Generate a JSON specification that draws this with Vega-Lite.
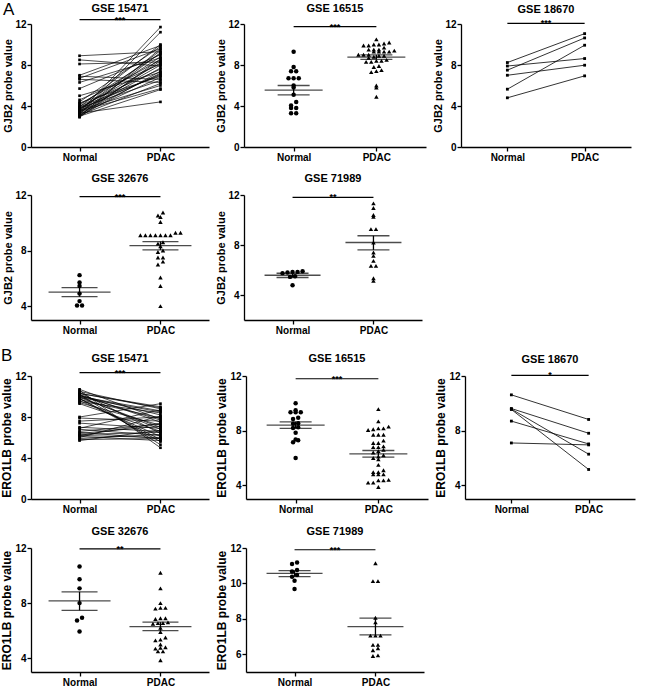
{
"$schema":"https://vega.github.io/schema/vega-lite/v6.json",
"padding":{"left":0,"top":0,"right":2,"bottom":2},
"config":{
 "font":"Liberation Sans",
 "view":{"stroke":null},
 "axis":{"grid":false,"domainColor":"#000","domainWidth":1.3,"tickColor":"#000","tickWidth":1.3,"tickSize":4,"labelFontSize":10,"labelFontWeight":"bold","labelColor":"#000","labelPadding":1,"titleFontSize":11,"titleFontWeight":"bold","titleColor":"#000","titlePadding":1,"labelFlush":false,"labelOverlap":false},
 "title":{"fontSize":11,"fontWeight":"bold","color":"#000","anchor":"middle","frame":"group","offset":6},
 "concat":{"spacing":8}
},
"datasets":{
 "one":[{"k":1}],
 "pr":[
  {"p":"A1","id":1,"Normal":8.9,"PDAC":9.3},{"p":"A1","id":2,"Normal":8.5,"PDAC":7.9},{"p":"A1","id":3,"Normal":8.1,"PDAC":8.3},{"p":"A1","id":4,"Normal":7.0,"PDAC":9.9},{"p":"A1","id":5,"Normal":6.9,"PDAC":6.6},{"p":"A1","id":6,"Normal":6.7,"PDAC":9.6},{"p":"A1","id":7,"Normal":6.6,"PDAC":6.3},{"p":"A1","id":8,"Normal":6.3,"PDAC":8.7},{"p":"A1","id":9,"Normal":5.7,"PDAC":9.0},{"p":"A1","id":10,"Normal":5.0,"PDAC":7.3},{"p":"A1","id":11,"Normal":4.6,"PDAC":8.1},{"p":"A1","id":12,"Normal":4.4,"PDAC":9.8},{"p":"A1","id":13,"Normal":4.3,"PDAC":6.9},{"p":"A1","id":14,"Normal":4.2,"PDAC":8.5},{"p":"A1","id":15,"Normal":4.0,"PDAC":7.6},{"p":"A1","id":16,"Normal":3.9,"PDAC":10.0},{"p":"A1","id":17,"Normal":3.8,"PDAC":6.5},{"p":"A1","id":18,"Normal":3.7,"PDAC":8.8},{"p":"A1","id":19,"Normal":3.7,"PDAC":7.1},{"p":"A1","id":20,"Normal":3.6,"PDAC":9.4},{"p":"A1","id":21,"Normal":3.5,"PDAC":5.7},{"p":"A1","id":22,"Normal":3.5,"PDAC":8.0},{"p":"A1","id":23,"Normal":3.4,"PDAC":11.7},{"p":"A1","id":24,"Normal":3.4,"PDAC":7.7},{"p":"A1","id":25,"Normal":3.3,"PDAC":4.4},{"p":"A1","id":26,"Normal":3.3,"PDAC":9.2},{"p":"A1","id":27,"Normal":3.2,"PDAC":6.8},{"p":"A1","id":28,"Normal":3.2,"PDAC":11.2},{"p":"A1","id":29,"Normal":3.1,"PDAC":8.4},{"p":"A1","id":30,"Normal":3.1,"PDAC":6.2},{"p":"A1","id":31,"Normal":3.0,"PDAC":9.6},{"p":"A1","id":32,"Normal":3.0,"PDAC":7.4},{"p":"A1","id":33,"Normal":3.0,"PDAC":5.6},{"p":"A1","id":34,"Normal":2.9,"PDAC":8.6},{"p":"A1","id":35,"Normal":3.9,"PDAC":7.0},{"p":"A1","id":36,"Normal":4.1,"PDAC":9.1},{"p":"A1","id":37,"Normal":3.6,"PDAC":6.0},{"p":"A1","id":38,"Normal":3.8,"PDAC":8.2},{"p":"A1","id":39,"Normal":3.3,"PDAC":7.2},
  {"p":"A3","id":1,"Normal":8.24,"PDAC":11.06},{"p":"A3","id":2,"Normal":7.5,"PDAC":10.64},{"p":"A3","id":3,"Normal":5.64,"PDAC":9.93},{"p":"A3","id":4,"Normal":7.9,"PDAC":8.63},{"p":"A3","id":5,"Normal":7.0,"PDAC":7.98},{"p":"A3","id":6,"Normal":4.8,"PDAC":6.94},
  {"p":"B1","id":1,"Normal":10.7,"PDAC":7.8},{"p":"B1","id":2,"Normal":10.6,"PDAC":5.0},{"p":"B1","id":3,"Normal":10.5,"PDAC":8.8},{"p":"B1","id":4,"Normal":10.4,"PDAC":6.4},{"p":"B1","id":5,"Normal":10.3,"PDAC":9.0},{"p":"B1","id":6,"Normal":10.2,"PDAC":7.5},{"p":"B1","id":7,"Normal":10.2,"PDAC":5.3},{"p":"B1","id":8,"Normal":10.1,"PDAC":8.2},{"p":"B1","id":9,"Normal":10.0,"PDAC":6.8},{"p":"B1","id":10,"Normal":10.0,"PDAC":8.6},{"p":"B1","id":11,"Normal":9.9,"PDAC":7.0},{"p":"B1","id":12,"Normal":9.8,"PDAC":5.6},{"p":"B1","id":13,"Normal":9.7,"PDAC":7.9},{"p":"B1","id":14,"Normal":9.6,"PDAC":6.1},{"p":"B1","id":15,"Normal":9.5,"PDAC":8.4},{"p":"B1","id":16,"Normal":9.4,"PDAC":7.2},{"p":"B1","id":17,"Normal":9.3,"PDAC":6.6},{"p":"B1","id":18,"Normal":9.8,"PDAC":5.8},{"p":"B1","id":19,"Normal":10.3,"PDAC":8.9},{"p":"B1","id":20,"Normal":10.1,"PDAC":7.7},{"p":"B1","id":21,"Normal":8.0,"PDAC":9.3},{"p":"B1","id":22,"Normal":7.9,"PDAC":7.6},{"p":"B1","id":23,"Normal":7.6,"PDAC":8.0},{"p":"B1","id":24,"Normal":7.4,"PDAC":6.9},{"p":"B1","id":25,"Normal":6.9,"PDAC":8.7},{"p":"B1","id":26,"Normal":6.8,"PDAC":6.2},{"p":"B1","id":27,"Normal":6.6,"PDAC":7.3},{"p":"B1","id":28,"Normal":6.5,"PDAC":5.9},{"p":"B1","id":29,"Normal":6.3,"PDAC":6.5},{"p":"B1","id":30,"Normal":6.2,"PDAC":7.4},{"p":"B1","id":31,"Normal":6.2,"PDAC":6.0},{"p":"B1","id":32,"Normal":6.1,"PDAC":5.7},{"p":"B1","id":33,"Normal":6.0,"PDAC":8.1},{"p":"B1","id":34,"Normal":5.9,"PDAC":6.3},{"p":"B1","id":35,"Normal":5.8,"PDAC":5.9},{"p":"B1","id":36,"Normal":5.7,"PDAC":6.7},{"p":"B1","id":37,"Normal":6.4,"PDAC":7.1},{"p":"B1","id":38,"Normal":7.0,"PDAC":6.6},{"p":"B1","id":39,"Normal":9.9,"PDAC":8.5},
  {"p":"B3","id":1,"Normal":10.62,"PDAC":8.82},{"p":"B3","id":2,"Normal":9.62,"PDAC":7.81},{"p":"B3","id":3,"Normal":9.58,"PDAC":6.28},{"p":"B3","id":4,"Normal":9.55,"PDAC":5.16},{"p":"B3","id":5,"Normal":8.7,"PDAC":7.03},{"p":"B3","id":6,"Normal":7.1,"PDAC":6.96}
 ],
 "sc":[
  {"p":"A2","g":"Normal","v":9.3},{"p":"A2","g":"Normal","v":7.8},{"p":"A2","g":"Normal","v":7.4},{"p":"A2","g":"Normal","v":7.4},{"p":"A2","g":"Normal","v":6.7},{"p":"A2","g":"Normal","v":6.7},{"p":"A2","g":"Normal","v":6.7},{"p":"A2","g":"Normal","v":6.0},{"p":"A2","g":"Normal","v":5.8},{"p":"A2","g":"Normal","v":5.1},{"p":"A2","g":"Normal","v":4.4},{"p":"A2","g":"Normal","v":4.05},{"p":"A2","g":"Normal","v":3.8},{"p":"A2","g":"Normal","v":3.8},{"p":"A2","g":"Normal","v":3.3},{"p":"A2","g":"Normal","v":3.3},
  {"p":"A2","g":"PDAC","v":10.5},{"p":"A2","g":"PDAC","v":10.2},{"p":"A2","g":"PDAC","v":10.1},{"p":"A2","g":"PDAC","v":10.0},{"p":"A2","g":"PDAC","v":10.0},{"p":"A2","g":"PDAC","v":9.9},{"p":"A2","g":"PDAC","v":9.9},{"p":"A2","g":"PDAC","v":9.7},{"p":"A2","g":"PDAC","v":9.5},{"p":"A2","g":"PDAC","v":9.5},{"p":"A2","g":"PDAC","v":9.5},{"p":"A2","g":"PDAC","v":9.4},{"p":"A2","g":"PDAC","v":9.3},{"p":"A2","g":"PDAC","v":9.3},{"p":"A2","g":"PDAC","v":9.3},{"p":"A2","g":"PDAC","v":9.3},{"p":"A2","g":"PDAC","v":9.0},{"p":"A2","g":"PDAC","v":9.0},{"p":"A2","g":"PDAC","v":9.0},{"p":"A2","g":"PDAC","v":8.9},{"p":"A2","g":"PDAC","v":8.9},{"p":"A2","g":"PDAC","v":8.8},{"p":"A2","g":"PDAC","v":8.7},{"p":"A2","g":"PDAC","v":8.5},{"p":"A2","g":"PDAC","v":8.4},{"p":"A2","g":"PDAC","v":8.4},{"p":"A2","g":"PDAC","v":8.3},{"p":"A2","g":"PDAC","v":8.3},{"p":"A2","g":"PDAC","v":7.9},{"p":"A2","g":"PDAC","v":7.8},{"p":"A2","g":"PDAC","v":7.5},{"p":"A2","g":"PDAC","v":7.4},{"p":"A2","g":"PDAC","v":7.3},{"p":"A2","g":"PDAC","v":6.0},{"p":"A2","g":"PDAC","v":5.8},{"p":"A2","g":"PDAC","v":4.9},
  {"p":"A4","g":"Normal","v":6.23},{"p":"A4","g":"Normal","v":5.7},{"p":"A4","g":"Normal","v":5.45},{"p":"A4","g":"Normal","v":4.9},{"p":"A4","g":"Normal","v":4.36},{"p":"A4","g":"Normal","v":4.05},{"p":"A4","g":"Normal","v":4.05},
  {"p":"A4","g":"PDAC","v":10.74},{"p":"A4","g":"PDAC","v":10.52},{"p":"A4","g":"PDAC","v":10.42},{"p":"A4","g":"PDAC","v":10.06},{"p":"A4","g":"PDAC","v":9.28},{"p":"A4","g":"PDAC","v":9.28},{"p":"A4","g":"PDAC","v":9.1},{"p":"A4","g":"PDAC","v":9.1},{"p":"A4","g":"PDAC","v":9.1},{"p":"A4","g":"PDAC","v":9.1},{"p":"A4","g":"PDAC","v":9.1},{"p":"A4","g":"PDAC","v":9.1},{"p":"A4","g":"PDAC","v":9.1},{"p":"A4","g":"PDAC","v":8.6},{"p":"A4","g":"PDAC","v":8.5},{"p":"A4","g":"PDAC","v":8.3},{"p":"A4","g":"PDAC","v":8.0},{"p":"A4","g":"PDAC","v":7.9},{"p":"A4","g":"PDAC","v":7.5},{"p":"A4","g":"PDAC","v":7.5},{"p":"A4","g":"PDAC","v":7.2},{"p":"A4","g":"PDAC","v":7.0},{"p":"A4","g":"PDAC","v":6.06},{"p":"A4","g":"PDAC","v":5.45},{"p":"A4","g":"PDAC","v":4.0},
  {"p":"A5","g":"Normal","v":5.85},{"p":"A5","g":"Normal","v":5.8},{"p":"A5","g":"Normal","v":5.9},{"p":"A5","g":"Normal","v":5.85},{"p":"A5","g":"Normal","v":5.75},{"p":"A5","g":"Normal","v":5.5},{"p":"A5","g":"Normal","v":5.45},{"p":"A5","g":"Normal","v":4.78},
  {"p":"A5","g":"PDAC","v":11.33},{"p":"A5","g":"PDAC","v":10.96},{"p":"A5","g":"PDAC","v":10.4},{"p":"A5","g":"PDAC","v":10.26},{"p":"A5","g":"PDAC","v":9.27},{"p":"A5","g":"PDAC","v":9.27},{"p":"A5","g":"PDAC","v":8.2},{"p":"A5","g":"PDAC","v":7.4},{"p":"A5","g":"PDAC","v":7.13},{"p":"A5","g":"PDAC","v":6.73},{"p":"A5","g":"PDAC","v":6.33},{"p":"A5","g":"PDAC","v":6.33},{"p":"A5","g":"PDAC","v":5.34},{"p":"A5","g":"PDAC","v":5.13},
  {"p":"B2","g":"Normal","v":10.0},{"p":"B2","g":"Normal","v":9.5},{"p":"B2","g":"Normal","v":9.35},{"p":"B2","g":"Normal","v":9.35},{"p":"B2","g":"Normal","v":9.35},{"p":"B2","g":"Normal","v":8.95},{"p":"B2","g":"Normal","v":8.85},{"p":"B2","g":"Normal","v":8.55},{"p":"B2","g":"Normal","v":8.5},{"p":"B2","g":"Normal","v":8.25},{"p":"B2","g":"Normal","v":8.2},{"p":"B2","g":"Normal","v":7.85},{"p":"B2","g":"Normal","v":7.35},{"p":"B2","g":"Normal","v":7.3},{"p":"B2","g":"Normal","v":7.15},{"p":"B2","g":"Normal","v":6.0},
  {"p":"B2","g":"PDAC","v":9.58},{"p":"B2","g":"PDAC","v":8.68},{"p":"B2","g":"PDAC","v":8.3},{"p":"B2","g":"PDAC","v":8.17},{"p":"B2","g":"PDAC","v":8.17},{"p":"B2","g":"PDAC","v":8.1},{"p":"B2","g":"PDAC","v":8.05},{"p":"B2","g":"PDAC","v":7.7},{"p":"B2","g":"PDAC","v":7.7},{"p":"B2","g":"PDAC","v":7.7},{"p":"B2","g":"PDAC","v":7.27},{"p":"B2","g":"PDAC","v":7.1},{"p":"B2","g":"PDAC","v":7.1},{"p":"B2","g":"PDAC","v":6.85},{"p":"B2","g":"PDAC","v":6.8},{"p":"B2","g":"PDAC","v":6.8},{"p":"B2","g":"PDAC","v":6.6},{"p":"B2","g":"PDAC","v":6.5},{"p":"B2","g":"PDAC","v":6.4},{"p":"B2","g":"PDAC","v":6.2},{"p":"B2","g":"PDAC","v":6.1},{"p":"B2","g":"PDAC","v":6.0},{"p":"B2","g":"PDAC","v":5.9},{"p":"B2","g":"PDAC","v":5.5},{"p":"B2","g":"PDAC","v":5.1},{"p":"B2","g":"PDAC","v":4.97},{"p":"B2","g":"PDAC","v":4.97},{"p":"B2","g":"PDAC","v":4.8},{"p":"B2","g":"PDAC","v":4.8},{"p":"B2","g":"PDAC","v":4.8},{"p":"B2","g":"PDAC","v":4.4},{"p":"B2","g":"PDAC","v":4.36},{"p":"B2","g":"PDAC","v":4.36},{"p":"B2","g":"PDAC","v":4.2},{"p":"B2","g":"PDAC","v":4.2},{"p":"B2","g":"PDAC","v":3.88},
  {"p":"B4","g":"Normal","v":10.66},{"p":"B4","g":"Normal","v":9.73},{"p":"B4","g":"Normal","v":9.07},{"p":"B4","g":"Normal","v":8.0},{"p":"B4","g":"Normal","v":6.94},{"p":"B4","g":"Normal","v":6.74},{"p":"B4","g":"Normal","v":5.94},
  {"p":"B4","g":"PDAC","v":10.2},{"p":"B4","g":"PDAC","v":9.07},{"p":"B4","g":"PDAC","v":8.0},{"p":"B4","g":"PDAC","v":7.65},{"p":"B4","g":"PDAC","v":7.65},{"p":"B4","g":"PDAC","v":7.6},{"p":"B4","g":"PDAC","v":6.9},{"p":"B4","g":"PDAC","v":6.9},{"p":"B4","g":"PDAC","v":6.85},{"p":"B4","g":"PDAC","v":6.6},{"p":"B4","g":"PDAC","v":6.55},{"p":"B4","g":"PDAC","v":6.55},{"p":"B4","g":"PDAC","v":6.5},{"p":"B4","g":"PDAC","v":6.2},{"p":"B4","g":"PDAC","v":5.9},{"p":"B4","g":"PDAC","v":5.5},{"p":"B4","g":"PDAC","v":5.35},{"p":"B4","g":"PDAC","v":5.3},{"p":"B4","g":"PDAC","v":5.0},{"p":"B4","g":"PDAC","v":4.8},{"p":"B4","g":"PDAC","v":4.75},{"p":"B4","g":"PDAC","v":4.7},{"p":"B4","g":"PDAC","v":4.5},{"p":"B4","g":"PDAC","v":4.5},{"p":"B4","g":"PDAC","v":3.85},
  {"p":"B5","g":"Normal","v":11.18},{"p":"B5","g":"Normal","v":11.1},{"p":"B5","g":"Normal","v":10.76},{"p":"B5","g":"Normal","v":10.67},{"p":"B5","g":"Normal","v":10.38},{"p":"B5","g":"Normal","v":10.48},{"p":"B5","g":"Normal","v":10.15},{"p":"B5","g":"Normal","v":9.68},
  {"p":"B5","g":"PDAC","v":11.14},{"p":"B5","g":"PDAC","v":10.13},{"p":"B5","g":"PDAC","v":10.13},{"p":"B5","g":"PDAC","v":8.06},{"p":"B5","g":"PDAC","v":7.8},{"p":"B5","g":"PDAC","v":7.05},{"p":"B5","g":"PDAC","v":7.05},{"p":"B5","g":"PDAC","v":7.05},{"p":"B5","g":"PDAC","v":6.53},{"p":"B5","g":"PDAC","v":6.53},{"p":"B5","g":"PDAC","v":6.34},{"p":"B5","g":"PDAC","v":6.23},{"p":"B5","g":"PDAC","v":5.9},{"p":"B5","g":"PDAC","v":5.94}
 ],
 "sm":[
  {"p":"A2","g":"Normal","m":5.55,"lo":5.09,"hi":6.0},{"p":"A2","g":"PDAC","m":8.76,"lo":8.55,"hi":8.98},
  {"p":"A4","g":"Normal","m":5.0,"lo":4.68,"hi":5.33},{"p":"A4","g":"PDAC","m":8.36,"lo":8.05,"hi":8.65},
  {"p":"A5","g":"Normal","m":5.58,"lo":5.4,"hi":5.74},{"p":"A5","g":"PDAC","m":8.2,"lo":7.61,"hi":8.74},
  {"p":"B2","g":"Normal","m":8.41,"lo":8.17,"hi":8.65},{"p":"B2","g":"PDAC","m":6.3,"lo":6.06,"hi":6.55},
  {"p":"B4","g":"Normal","m":8.16,"lo":7.48,"hi":8.82},{"p":"B4","g":"PDAC","m":6.3,"lo":6.01,"hi":6.62},
  {"p":"B5","g":"Normal","m":10.57,"lo":10.38,"hi":10.72},{"p":"B5","g":"PDAC","m":7.56,"lo":7.1,"hi":8.04}
 ]
},
"spacing":11,
"vconcat":[
 {"title":{"text":"A","anchor":"start","frame":"bounds","fontSize":17,"fontWeight":"normal","offset":-16},
  "spacing":11,
  "vconcat":[
   {"spacing":6,"hconcat":[
    {"title":{"text":"GSE 15471","offset":2},"width":178,"height":123,
     "layer":[
      {"data":{"name":"pr"},"transform":[{"filter":"datum.p==='A1'"},{"fold":["Normal","PDAC"],"as":["g","v"]},{"calculate":"datum.g==='Normal'?1:2","as":"xi"}],
       "mark":{"type":"line","color":"#000","strokeWidth":0.7,"point":{"shape":"square","size":7,"filled":true,"color":"#000"}},
       "encoding":{"x":{"field":"xi","type":"quantitative","scale":{"domain":[0.47,2.42]},"axis":{"values":[1,2],"labelExpr":"datum.value===1?'Normal':'PDAC'","title":null}},
                   "y":{"field":"v","type":"quantitative","scale":{"domain":[0,12]},"axis":{"values":[0,4,8,12],"title":"GJB2 probe value"}},
                   "detail":{"field":"id","type":"nominal"}}},
      {"data":{"name":"one"},"mark":{"type":"rule","color":"#000","strokeWidth":1.2},"encoding":{"x":{"datum":1},"x2":{"datum":2},"y":{"datum":12.42}}},
      {"data":{"name":"one"},"mark":{"type":"text","text":"***","fontSize":9,"fontWeight":"bold","baseline":"alphabetic","dy":3},"encoding":{"x":{"datum":1.5},"y":{"datum":12.42}}}
     ]},
    {"title":{"text":"GSE 16515","offset":5},"width":182,"height":123,
     "layer":[
      {"data":{"name":"sc"},"transform":[{"filter":"datum.p==='A2'"},{"calculate":"floor(datum.v/0.45)","as":"r"},{"window":[{"op":"row_number","as":"k"},{"op":"count","as":"c"}],"groupby":["g","r"],"sort":[{"field":"v"}],"frame":[null,null]},{"calculate":"(datum.g==='Normal'?1:2)+(datum.k-(datum.c+1)/2)*0.062","as":"xi"}],
       "mark":{"type":"point","filled":true,"opacity":1,"size":20,"color":"#000"},
       "encoding":{"x":{"field":"xi","type":"quantitative","scale":{"domain":[0.47,2.42]},"axis":{"values":[1,2],"labelExpr":"datum.value===1?'Normal':'PDAC'","title":null}},
                   "y":{"field":"v","type":"quantitative","scale":{"domain":[0,12]},"axis":{"values":[0,4,8,12],"title":"GJB2 probe value"}},
                   "shape":{"field":"g","type":"nominal","scale":{"domain":["Normal","PDAC"],"range":["circle","triangle-up"]},"legend":null}}},
      {"data":{"name":"sm"},"transform":[{"filter":"datum.p==='A2'"},{"calculate":"datum.g==='Normal'?1:2","as":"xi"}],
       "encoding":{"x":{"field":"xi","type":"quantitative"}},
       "layer":[
        {"mark":{"type":"tick","orient":"horizontal","size":58,"thickness":1.3,"color":"#000"},"encoding":{"y":{"field":"m","type":"quantitative"}}},
        {"mark":{"type":"rule","color":"#000","strokeWidth":1.3},"encoding":{"y":{"field":"lo","type":"quantitative"},"y2":{"field":"hi"}}},
        {"mark":{"type":"tick","orient":"horizontal","size":32,"thickness":1.3,"color":"#000"},"encoding":{"y":{"field":"lo","type":"quantitative"}}},
        {"mark":{"type":"tick","orient":"horizontal","size":32,"thickness":1.3,"color":"#000"},"encoding":{"y":{"field":"hi","type":"quantitative"}}}
       ]},
      {"data":{"name":"one"},"mark":{"type":"rule","color":"#000","strokeWidth":1.2},"encoding":{"x":{"datum":1},"x2":{"datum":2},"y":{"datum":11.74}}},
      {"data":{"name":"one"},"mark":{"type":"text","text":"***","fontSize":9,"fontWeight":"bold","baseline":"alphabetic","dy":3},"encoding":{"x":{"datum":1.5},"y":{"datum":11.74}}}
     ]},
    {"title":{"text":"GSE 18670","offset":4},"width":170,"height":123,
     "layer":[
      {"data":{"name":"pr"},"transform":[{"filter":"datum.p==='A3'"},{"fold":["Normal","PDAC"],"as":["g","v"]},{"calculate":"datum.g==='Normal'?1:2","as":"xi"}],
       "mark":{"type":"line","color":"#000","strokeWidth":0.8,"point":{"shape":"square","size":8,"filled":true,"color":"#000"}},
       "encoding":{"x":{"field":"xi","type":"quantitative","scale":{"domain":[0.47,2.42]},"axis":{"values":[1,2],"labelExpr":"datum.value===1?'Normal':'PDAC'","title":null}},
                   "y":{"field":"v","type":"quantitative","scale":{"domain":[0,12]},"axis":{"values":[0,4,8,12],"title":"GJB2 probe value"}},
                   "detail":{"field":"id","type":"nominal"}}},
      {"data":{"name":"one"},"mark":{"type":"rule","color":"#000","strokeWidth":1.2},"encoding":{"x":{"datum":1},"x2":{"datum":2},"y":{"datum":12.06}}},
      {"data":{"name":"one"},"mark":{"type":"text","text":"***","fontSize":9,"fontWeight":"bold","baseline":"alphabetic","dy":3},"encoding":{"x":{"datum":1.5},"y":{"datum":12.06}}}
     ]}
   ]},
   {"spacing":6,"hconcat":[
    {"title":{"text":"GSE 32676","offset":6},"width":178,"height":125,
     "layer":[
      {"data":{"name":"sc"},"transform":[{"filter":"datum.p==='A4'"},{"calculate":"floor(datum.v/0.35)","as":"r"},{"window":[{"op":"row_number","as":"k"},{"op":"count","as":"c"}],"groupby":["g","r"],"sort":[{"field":"v"}],"frame":[null,null]},{"calculate":"(datum.g==='Normal'?1:2)+(datum.k-(datum.c+1)/2)*0.062","as":"xi"}],
       "mark":{"type":"point","filled":true,"opacity":1,"size":20,"color":"#000"},
       "encoding":{"x":{"field":"xi","type":"quantitative","scale":{"domain":[0.47,2.42]},"axis":{"values":[1,2],"labelExpr":"datum.value===1?'Normal':'PDAC'","title":null}},
                   "y":{"field":"v","type":"quantitative","scale":{"domain":[3,12]},"axis":{"values":[4,8,12],"title":"GJB2 probe value"}},
                   "shape":{"field":"g","type":"nominal","scale":{"domain":["Normal","PDAC"],"range":["circle","triangle-up"]},"legend":null}}},
      {"data":{"name":"sm"},"transform":[{"filter":"datum.p==='A4'"},{"calculate":"datum.g==='Normal'?1:2","as":"xi"}],
       "encoding":{"x":{"field":"xi","type":"quantitative"}},
       "layer":[
        {"mark":{"type":"tick","orient":"horizontal","size":62,"thickness":1.3,"color":"#000"},"encoding":{"y":{"field":"m","type":"quantitative"}}},
        {"mark":{"type":"rule","color":"#000","strokeWidth":1.3},"encoding":{"y":{"field":"lo","type":"quantitative"},"y2":{"field":"hi"}}},
        {"mark":{"type":"tick","orient":"horizontal","size":36,"thickness":1.3,"color":"#000"},"encoding":{"y":{"field":"lo","type":"quantitative"}}},
        {"mark":{"type":"tick","orient":"horizontal","size":36,"thickness":1.3,"color":"#000"},"encoding":{"y":{"field":"hi","type":"quantitative"}}}
       ]},
      {"data":{"name":"one"},"mark":{"type":"rule","color":"#000","strokeWidth":1.2},"encoding":{"x":{"datum":1},"x2":{"datum":2},"y":{"datum":11.88}}},
      {"data":{"name":"one"},"mark":{"type":"text","text":"***","fontSize":9,"fontWeight":"bold","baseline":"alphabetic","dy":3},"encoding":{"x":{"datum":1.5},"y":{"datum":11.88}}}
     ]},
    {"title":{"text":"GSE 71989","offset":6},"width":178,"height":125,
     "layer":[
      {"data":{"name":"sc"},"transform":[{"filter":"datum.p==='A5'"},{"calculate":"floor(datum.v/0.4)","as":"r"},{"window":[{"op":"row_number","as":"k"},{"op":"count","as":"c"}],"groupby":["g","r"],"sort":[{"field":"v"}],"frame":[null,null]},{"calculate":"(datum.g==='Normal'?1:2)+(datum.k-(datum.c+1)/2)*0.062","as":"xi"}],
       "mark":{"type":"point","filled":true,"opacity":1,"size":20,"color":"#000"},
       "encoding":{"x":{"field":"xi","type":"quantitative","scale":{"domain":[0.47,2.42]},"axis":{"values":[1,2],"labelExpr":"datum.value===1?'Normal':'PDAC'","title":null}},
                   "y":{"field":"v","type":"quantitative","scale":{"domain":[2,12]},"axis":{"values":[4,8,12],"title":"GJB2 probe value"}},
                   "shape":{"field":"g","type":"nominal","scale":{"domain":["Normal","PDAC"],"range":["circle","triangle-up"]},"legend":null}}},
      {"data":{"name":"sm"},"transform":[{"filter":"datum.p==='A5'"},{"calculate":"datum.g==='Normal'?1:2","as":"xi"}],
       "encoding":{"x":{"field":"xi","type":"quantitative"}},
       "layer":[
        {"mark":{"type":"tick","orient":"horizontal","size":56,"thickness":1.3,"color":"#000"},"encoding":{"y":{"field":"m","type":"quantitative"}}},
        {"mark":{"type":"rule","color":"#000","strokeWidth":1.3},"encoding":{"y":{"field":"lo","type":"quantitative"},"y2":{"field":"hi"}}},
        {"mark":{"type":"tick","orient":"horizontal","size":32,"thickness":1.3,"color":"#000"},"encoding":{"y":{"field":"lo","type":"quantitative"}}},
        {"mark":{"type":"tick","orient":"horizontal","size":32,"thickness":1.3,"color":"#000"},"encoding":{"y":{"field":"hi","type":"quantitative"}}}
       ]},
      {"data":{"name":"one"},"mark":{"type":"rule","color":"#000","strokeWidth":1.2},"encoding":{"x":{"datum":1},"x2":{"datum":2},"y":{"datum":11.81}}},
      {"data":{"name":"one"},"mark":{"type":"text","text":"**","fontSize":9,"fontWeight":"bold","baseline":"alphabetic","dy":3},"encoding":{"x":{"datum":1.5},"y":{"datum":11.81}}}
     ]}
   ]}
  ]},
 {"title":{"text":"B","anchor":"start","frame":"bounds","fontSize":17,"fontWeight":"normal","offset":-12},
  "spacing":12,
  "vconcat":[
   {"spacing":6,"hconcat":[
    {"title":{"text":"GSE 15471","offset":5},"width":178,"height":123,
     "layer":[
      {"data":{"name":"pr"},"transform":[{"filter":"datum.p==='B1'"},{"fold":["Normal","PDAC"],"as":["g","v"]},{"calculate":"datum.g==='Normal'?1:2","as":"xi"}],
       "mark":{"type":"line","color":"#000","strokeWidth":0.7,"point":{"shape":"square","size":7,"filled":true,"color":"#000"}},
       "encoding":{"x":{"field":"xi","type":"quantitative","scale":{"domain":[0.47,2.42]},"axis":{"values":[1,2],"labelExpr":"datum.value===1?'Normal':'PDAC'","title":null}},
                   "y":{"field":"v","type":"quantitative","scale":{"domain":[0,12]},"axis":{"values":[0,4,8,12],"title":"ERO1LB probe value","titleFontSize":12}},
                   "detail":{"field":"id","type":"nominal"}}},
      {"data":{"name":"one"},"mark":{"type":"rule","color":"#000","strokeWidth":1.2},"encoding":{"x":{"datum":1},"x2":{"datum":2},"y":{"datum":12.33}}},
      {"data":{"name":"one"},"mark":{"type":"text","text":"***","fontSize":9,"fontWeight":"bold","baseline":"alphabetic","dy":3},"encoding":{"x":{"datum":1.5},"y":{"datum":12.33}}}
     ]},
    {"title":{"text":"GSE 16515","offset":7},"width":182,"height":123,
     "layer":[
      {"data":{"name":"sc"},"transform":[{"filter":"datum.p==='B2'"},{"calculate":"floor(datum.v/0.35)","as":"r"},{"window":[{"op":"row_number","as":"k"},{"op":"count","as":"c"}],"groupby":["g","r"],"sort":[{"field":"v"}],"frame":[null,null]},{"calculate":"(datum.g==='Normal'?1:2)+(datum.k-(datum.c+1)/2)*0.062","as":"xi"}],
       "mark":{"type":"point","filled":true,"opacity":1,"size":20,"color":"#000"},
       "encoding":{"x":{"field":"xi","type":"quantitative","scale":{"domain":[0.47,2.42]},"axis":{"values":[1,2],"labelExpr":"datum.value===1?'Normal':'PDAC'","title":null}},
                   "y":{"field":"v","type":"quantitative","scale":{"domain":[3,12]},"axis":{"values":[4,8,12],"title":"ERO1LB probe value","titleFontSize":12}},
                   "shape":{"field":"g","type":"nominal","scale":{"domain":["Normal","PDAC"],"range":["circle","triangle-up"]},"legend":null}}},
      {"data":{"name":"sm"},"transform":[{"filter":"datum.p==='B2'"},{"calculate":"datum.g==='Normal'?1:2","as":"xi"}],
       "encoding":{"x":{"field":"xi","type":"quantitative"}},
       "layer":[
        {"mark":{"type":"tick","orient":"horizontal","size":58,"thickness":1.3,"color":"#000"},"encoding":{"y":{"field":"m","type":"quantitative"}}},
        {"mark":{"type":"rule","color":"#000","strokeWidth":1.3},"encoding":{"y":{"field":"lo","type":"quantitative"},"y2":{"field":"hi"}}},
        {"mark":{"type":"tick","orient":"horizontal","size":32,"thickness":1.3,"color":"#000"},"encoding":{"y":{"field":"lo","type":"quantitative"}}},
        {"mark":{"type":"tick","orient":"horizontal","size":32,"thickness":1.3,"color":"#000"},"encoding":{"y":{"field":"hi","type":"quantitative"}}}
       ]},
      {"data":{"name":"one"},"mark":{"type":"rule","color":"#000","strokeWidth":1.2},"encoding":{"x":{"datum":1},"x2":{"datum":2},"y":{"datum":11.8}}},
      {"data":{"name":"one"},"mark":{"type":"text","text":"***","fontSize":9,"fontWeight":"bold","baseline":"alphabetic","dy":3},"encoding":{"x":{"datum":1.5},"y":{"datum":11.8}}}
     ]},
    {"title":{"text":"GSE 18670","offset":6},"width":170,"height":123,
     "layer":[
      {"data":{"name":"pr"},"transform":[{"filter":"datum.p==='B3'"},{"fold":["Normal","PDAC"],"as":["g","v"]},{"calculate":"datum.g==='Normal'?1:2","as":"xi"}],
       "mark":{"type":"line","color":"#000","strokeWidth":0.8,"point":{"shape":"square","size":8,"filled":true,"color":"#000"}},
       "encoding":{"x":{"field":"xi","type":"quantitative","scale":{"domain":[0.47,2.42]},"axis":{"values":[1,2],"labelExpr":"datum.value===1?'Normal':'PDAC'","title":null}},
                   "y":{"field":"v","type":"quantitative","scale":{"domain":[3,12]},"axis":{"values":[4,8,12],"title":"ERO1LB probe value","titleFontSize":12}},
                   "detail":{"field":"id","type":"nominal"}}},
      {"data":{"name":"one"},"mark":{"type":"rule","color":"#000","strokeWidth":1.2},"encoding":{"x":{"datum":1},"x2":{"datum":2},"y":{"datum":12.05}}},
      {"data":{"name":"one"},"mark":{"type":"text","text":"*","fontSize":9,"fontWeight":"bold","baseline":"alphabetic","dy":3},"encoding":{"x":{"datum":1.5},"y":{"datum":12.05}}}
     ]}
   ]},
   {"spacing":6,"hconcat":[
    {"title":{"text":"GSE 32676","offset":6},"width":178,"height":124,
     "layer":[
      {"data":{"name":"sc"},"transform":[{"filter":"datum.p==='B4'"},{"calculate":"floor(datum.v/0.35)","as":"r"},{"window":[{"op":"row_number","as":"k"},{"op":"count","as":"c"}],"groupby":["g","r"],"sort":[{"field":"v"}],"frame":[null,null]},{"calculate":"(datum.g==='Normal'?1:2)+(datum.k-(datum.c+1)/2)*0.062","as":"xi"}],
       "mark":{"type":"point","filled":true,"opacity":1,"size":20,"color":"#000"},
       "encoding":{"x":{"field":"xi","type":"quantitative","scale":{"domain":[0.47,2.42]},"axis":{"values":[1,2],"labelExpr":"datum.value===1?'Normal':'PDAC'","title":null}},
                   "y":{"field":"v","type":"quantitative","scale":{"domain":[3,12]},"axis":{"values":[4,8,12],"title":"ERO1LB probe value","titleFontSize":12}},
                   "shape":{"field":"g","type":"nominal","scale":{"domain":["Normal","PDAC"],"range":["circle","triangle-up"]},"legend":null}}},
      {"data":{"name":"sm"},"transform":[{"filter":"datum.p==='B4'"},{"calculate":"datum.g==='Normal'?1:2","as":"xi"}],
       "encoding":{"x":{"field":"xi","type":"quantitative"}},
       "layer":[
        {"mark":{"type":"tick","orient":"horizontal","size":62,"thickness":1.3,"color":"#000"},"encoding":{"y":{"field":"m","type":"quantitative"}}},
        {"mark":{"type":"rule","color":"#000","strokeWidth":1.3},"encoding":{"y":{"field":"lo","type":"quantitative"},"y2":{"field":"hi"}}},
        {"mark":{"type":"tick","orient":"horizontal","size":36,"thickness":1.3,"color":"#000"},"encoding":{"y":{"field":"lo","type":"quantitative"}}},
        {"mark":{"type":"tick","orient":"horizontal","size":36,"thickness":1.3,"color":"#000"},"encoding":{"y":{"field":"hi","type":"quantitative"}}}
       ]},
      {"data":{"name":"one"},"mark":{"type":"rule","color":"#000","strokeWidth":1.2},"encoding":{"x":{"datum":1},"x2":{"datum":2},"y":{"datum":11.93}}},
      {"data":{"name":"one"},"mark":{"type":"text","text":"**","fontSize":9,"fontWeight":"bold","baseline":"alphabetic","dy":3},"encoding":{"x":{"datum":1.5},"y":{"datum":11.93}}}
     ]},
    {"title":{"text":"GSE 71989","offset":6},"width":178,"height":124,
     "layer":[
      {"data":{"name":"sc"},"transform":[{"filter":"datum.p==='B5'"},{"calculate":"floor(datum.v/0.28)","as":"r"},{"window":[{"op":"row_number","as":"k"},{"op":"count","as":"c"}],"groupby":["g","r"],"sort":[{"field":"v"}],"frame":[null,null]},{"calculate":"(datum.g==='Normal'?1:2)+(datum.k-(datum.c+1)/2)*0.062","as":"xi"}],
       "mark":{"type":"point","filled":true,"opacity":1,"size":20,"color":"#000"},
       "encoding":{"x":{"field":"xi","type":"quantitative","scale":{"domain":[0.47,2.42]},"axis":{"values":[1,2],"labelExpr":"datum.value===1?'Normal':'PDAC'","title":null}},
                   "y":{"field":"v","type":"quantitative","scale":{"domain":[5,12]},"axis":{"values":[6,8,10,12],"title":"ERO1LB probe value","titleFontSize":12}},
                   "shape":{"field":"g","type":"nominal","scale":{"domain":["Normal","PDAC"],"range":["circle","triangle-up"]},"legend":null}}},
      {"data":{"name":"sm"},"transform":[{"filter":"datum.p==='B5'"},{"calculate":"datum.g==='Normal'?1:2","as":"xi"}],
       "encoding":{"x":{"field":"xi","type":"quantitative"}},
       "layer":[
        {"mark":{"type":"tick","orient":"horizontal","size":56,"thickness":1.3,"color":"#000"},"encoding":{"y":{"field":"m","type":"quantitative"}}},
        {"mark":{"type":"rule","color":"#000","strokeWidth":1.3},"encoding":{"y":{"field":"lo","type":"quantitative"},"y2":{"field":"hi"}}},
        {"mark":{"type":"tick","orient":"horizontal","size":32,"thickness":1.3,"color":"#000"},"encoding":{"y":{"field":"lo","type":"quantitative"}}},
        {"mark":{"type":"tick","orient":"horizontal","size":32,"thickness":1.3,"color":"#000"},"encoding":{"y":{"field":"hi","type":"quantitative"}}}
       ]},
      {"data":{"name":"one"},"mark":{"type":"rule","color":"#000","strokeWidth":1.2},"encoding":{"x":{"datum":1},"x2":{"datum":2},"y":{"datum":11.9}}},
      {"data":{"name":"one"},"mark":{"type":"text","text":"***","fontSize":9,"fontWeight":"bold","baseline":"alphabetic","dy":3},"encoding":{"x":{"datum":1.5},"y":{"datum":11.9}}}
     ]}
   ]}
  ]}
]
}
